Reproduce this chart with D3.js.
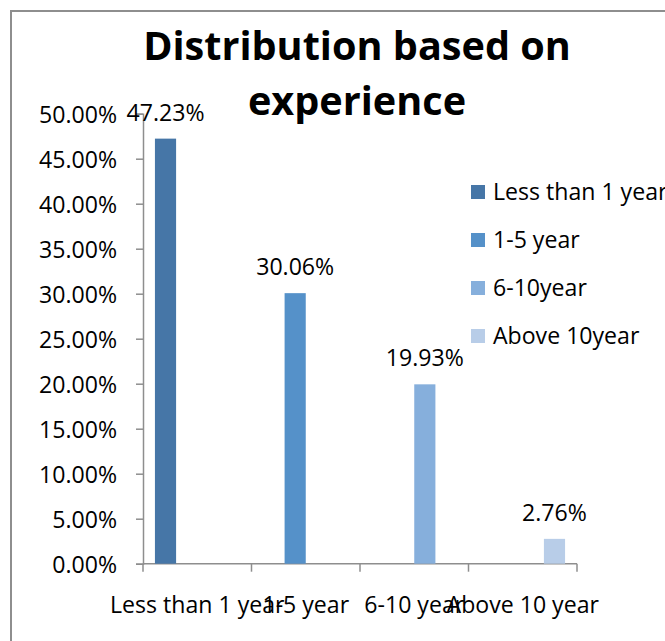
<!DOCTYPE html>
<html>
<head>
<meta charset="utf-8">
<script src="https://cdn.jsdelivr.net/npm/d3@7"></script>
<style>
  html, body { margin: 0; padding: 0; background: #ffffff; }
  svg { display: block; }
  text { font-family: "Open Sans", "Liberation Sans", sans-serif; fill: #000; }
</style>
</head>
<body>
<svg id="chart" width="665" height="641"></svg>
<script>
// Experience groups (x categories) and legend series names
const categories = ["Less than 1 year", "1-5 year", "6-10 year", "Above 10 year"];
const seriesNames = ["Less than 1 year", "1-5 year", "6-10year", "Above 10year"];
// Share of respondents per group (percent); each series has a value in its own category only
const seriesValues = [
  [47.23, null, null, null],
  [null, 30.06, null, null],
  [null, null, 19.93, null],
  [null, null, null, 2.76]
];
const seriesColors = ["#4676A7", "#5591C9", "#86AFDC", "#B8CDE8"];
const yTicks = [0, 5, 10, 15, 20, 25, 30, 35, 40, 45, 50];
const titleLines = ["Distribution based on", "experience"];

const svg = d3.select("#chart");

// Pick a font size so that a sample string renders at the wanted width
function sizeFor(sample, width, weight) {
  const t = svg.append("text")
    .style("font-size", "100px")
    .style("font-weight", weight || "normal")
    .text(sample);
  const w = t.node().getComputedTextLength();
  t.remove();
  return w > 0 ? 100 * width / w : 23;
}
const bodySize = sizeFor("50.00%", 78);
const titleSize = sizeFor(titleLines[0], 428, "bold");

// Chart-area frame
svg.append("rect")
  .attr("x", 11).attr("y", 11)
  .attr("width", 700).attr("height", 700)
  .attr("fill", "none")
  .attr("stroke", "#8e8e8e")
  .attr("stroke-width", 2);

const plot = { left: 143, right: 577, top: 113.7, bottom: 563.7 };

const x = d3.scaleBand()
  .domain(categories)
  .range([plot.left, plot.right])
  .paddingInner(0).paddingOuter(0);

const groupPad = 0.11;
const xSeries = d3.scaleBand()
  .domain(d3.range(seriesNames.length))
  .range([x.bandwidth() * groupPad, x.bandwidth() * (1 - groupPad)]);

const y = d3.scaleLinear().domain([0, 50]).range([plot.bottom, plot.top]);

// Y axis
const yAxis = svg.append("g")
  .attr("transform", `translate(${plot.left},0)`)
  .call(d3.axisLeft(y).tickValues(yTicks).tickSize(7)
    .tickFormat(d => d.toFixed(2) + "%"));
yAxis.select(".domain").attr("stroke", "#8e8e8e").attr("stroke-width", 1.5);
yAxis.selectAll(".tick line").attr("stroke", "#8e8e8e").attr("stroke-width", 1.5);
yAxis.selectAll(".tick text")
  .style("font-size", bodySize + "px")
  .attr("dy", "0.36em")
  .attr("x", -26);

// X axis (boundary ticks between categories)
const xAxisG = svg.append("g").attr("transform", `translate(0,${plot.bottom})`);
xAxisG.append("line")
  .attr("x1", plot.left).attr("x2", plot.right)
  .attr("stroke", "#8e8e8e").attr("stroke-width", 1.5);
const boundaries = categories.map(c => x(c)).concat([plot.right]);
xAxisG.selectAll("line.tk").data(boundaries).join("line")
  .attr("class", "tk")
  .attr("x1", d => d).attr("x2", d => d)
  .attr("y1", 0).attr("y2", 8)
  .attr("stroke", "#8e8e8e").attr("stroke-width", 1.5);
xAxisG.selectAll("text").data(categories).join("text")
  .attr("x", d => x(d) + x.bandwidth() / 2)
  .attr("y", 49)
  .attr("text-anchor", "middle")
  .style("font-size", bodySize + "px")
  .text(d => d);

// Bars and value labels
seriesValues.forEach((vals, si) => {
  const pts = vals.map((v, ci) => ({ v, c: categories[ci] })).filter(d => d.v !== null);
  const g = svg.append("g");
  g.selectAll("rect").data(pts).join("rect")
    .attr("x", d => x(d.c) + xSeries(si))
    .attr("width", xSeries.bandwidth())
    .attr("y", d => y(d.v))
    .attr("height", d => y(0) - y(d.v))
    .attr("fill", seriesColors[si]);
  g.selectAll("text").data(pts).join("text")
    .attr("x", d => x(d.c) + xSeries(si) + xSeries.bandwidth() / 2)
    .attr("y", d => y(d.v) - 18)
    .attr("text-anchor", "middle")
    .style("font-size", bodySize + "px")
    .text(d => d.v.toFixed(2) + "%");
});

// Legend
const legend = svg.append("g").attr("transform", "translate(471,185)");
seriesNames.forEach((name, i) => {
  const row = legend.append("g").attr("transform", `translate(0,${i * 48})`);
  row.append("rect").attr("width", 14).attr("height", 14).attr("fill", seriesColors[i]);
  row.append("text").attr("x", 22).attr("y", 7).attr("dy", "0.36em")
    .style("font-size", bodySize + "px").text(name);
});

// Title
svg.append("g").selectAll("text").data(titleLines).join("text")
  .attr("x", 357)
  .attr("y", (d, i) => 60 + i * 55)
  .attr("text-anchor", "middle")
  .style("font-size", titleSize + "px")
  .style("font-weight", "bold")
  .text(d => d);
</script>
</body>
</html>
